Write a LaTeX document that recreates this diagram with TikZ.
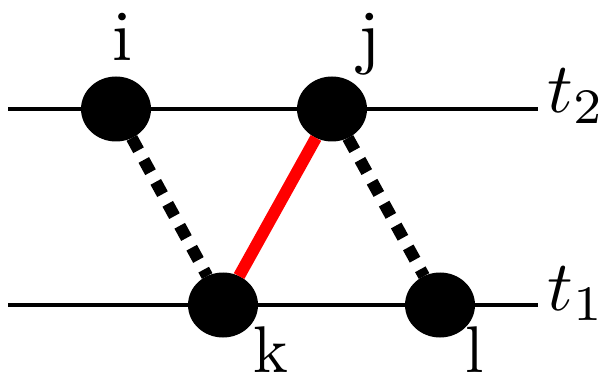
\documentclass[tikz,border=0pt]{standalone}
\usetikzlibrary{shapes.geometric}
\begin{document}
\begin{tikzpicture}[x=1pt,y=-1pt,
  vertex/.style={ellipse,fill=black,minimum width=70pt,minimum height=65pt,inner sep=0pt,outer sep=0pt},
  timeline/.style={line width=4.5pt},
  dashlink/.style={line width=12pt,dash pattern=on 14pt off 11pt},
  redlink/.style={line width=12pt,red},
  lbl/.style={anchor=base,inner sep=0pt,scale=7.2},
  lowlbl/.style={anchor=base,inner sep=0pt,scale=6.6},
  tlbl/.style={anchor=base west,inner sep=0pt,scale=7.1}]
\useasboundingbox (0,0) rectangle (602,379);
\coordinate (a2) at (8,109);
\coordinate (b2) at (538,109);
\coordinate (a1) at (8,305);
\coordinate (b1) at (538,305);
\draw[timeline] (a2) -- (b2);
\draw[timeline] (a1) -- (b1);
\node[vertex] (i) at (116,109) {};
\node[vertex] (j) at (332,109) {};
\node[vertex] (k) at (223,305) {};
\node[vertex] (l) at (440,305) {};
\draw[dashlink] (i) -- (k);
\draw[dashlink] (j) -- (l);
\draw[redlink] (j) -- (k);
\node[lbl] (li) at (123,61) {i};
\node[lbl] (lj) at (370,61) {j};
\node[lowlbl] (lk) at (271,372) {k};
\node[lowlbl] (ll) at (475,372) {l};
\node[tlbl] (t2) at (546,113) {$t_2$};
\node[tlbl] (t1) at (546,310) {$t_1$};
\end{tikzpicture}
\end{document}
